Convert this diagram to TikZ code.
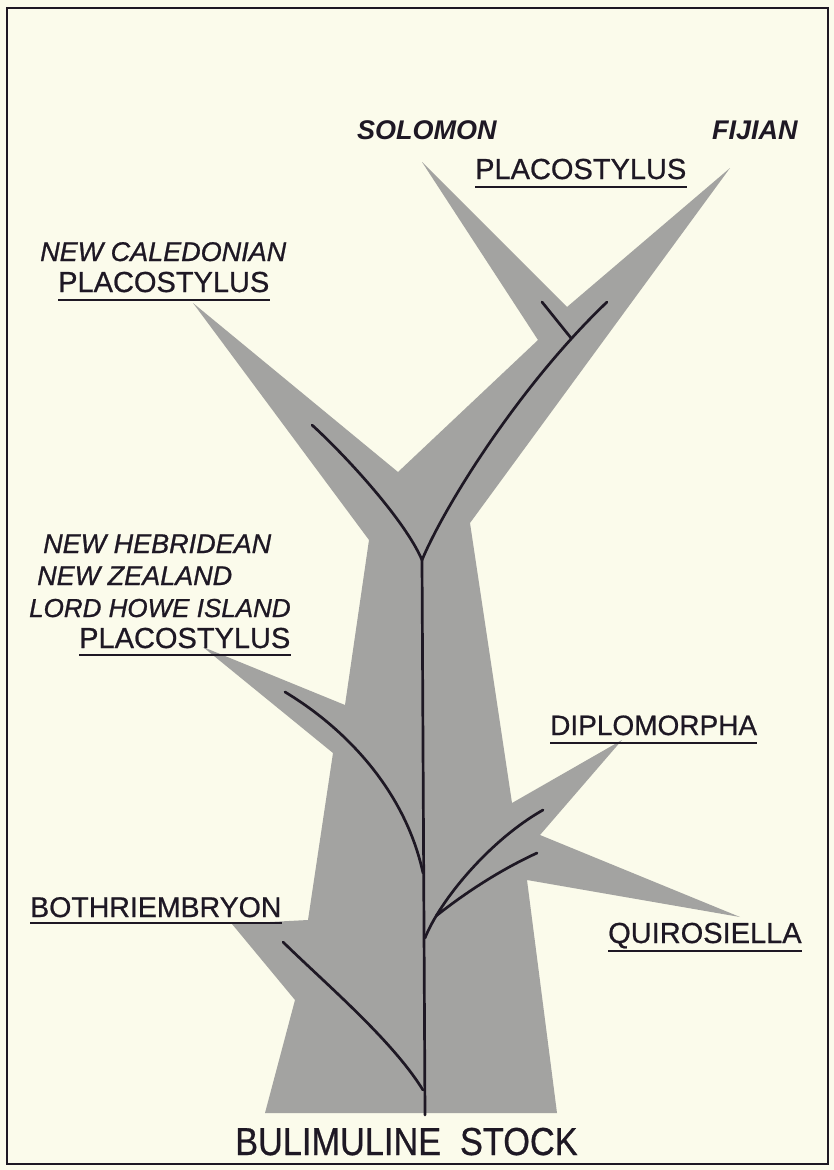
\documentclass[tikz,border=0pt]{standalone}
\usepackage{fontspec}
\setmainfont{Liberation Sans}
\newfontfamily\leroy{Liberation Sans}[FakeBold=0.7]
\newfontfamily\leroyit{Liberation Sans Italic}[FakeBold=0.9]
\definecolor{bgc}{RGB}{251,251,235}
\definecolor{branchgray}{RGB}{163,163,161}
\definecolor{inkc}{RGB}{30,24,36}
\begin{document}
\begin{tikzpicture}[x=1pt,y=-1pt,
  lbl/.style={anchor=base west, inner sep=0pt, font=\leroy\fontsize{29}{29}\selectfont, text=inkc},
  ital/.style={anchor=base west, inner sep=0pt, font=\leroyit\fontsize{27}{27}\selectfont, text=inkc},
  boldital/.style={anchor=base west, inner sep=0pt, font=\fontsize{27}{27}\selectfont\bfseries\itshape, text=inkc},
  uline/.style={draw=inkc, line width=2.8pt},
  vein/.style={draw=inkc, line width=2.7pt, line cap=round},
  body/.style={fill=branchgray, draw=none},
  frame/.style={draw=inkc, line width=2.8pt}]
% background and frame
\fill[bgc] (0,0) rectangle (834,1170);
\useasboundingbox (0,0) rectangle (834,1170);
\draw[frame] (7,8) rectangle (828,1164);

% shaded tree body
\fill[body] (265,1113) -- (295,1000) -- (232,924) -- (308,920)
  -- (333,753) -- (203,647) -- (345,705)
  -- (369,540) -- (193,303) -- (398,472)
  -- (538,340) -- (422,162) -- (567,307) -- (730,168)
  -- (470,523) -- (512,803) -- (622,740) -- (540,835)
  -- (740,917) -- (527,880) -- (557,1113) -- cycle;

% vein coordinates
\coordinate (V) at (422,560);
\coordinate (root) at (425,1115);
\coordinate (ncend) at (312,425);
\coordinate (fjend) at (607,302);
\coordinate (soend) at (542,302);
\coordinate (sojoin) at (571,338);
\coordinate (nhend) at (285,692);
\coordinate (nhjoin) at (423,873);
\coordinate (dpbase) at (425,938);
\coordinate (dpend) at (543,810);
\coordinate (qrbase) at (436,916);
\coordinate (qrend) at (537,853);
\coordinate (btend) at (283,942);
\coordinate (btjoin) at (423,1090);

% veins
\draw[vein] (V) -- (root);
\draw[vein] (ncend) .. controls (345,455) and (405,520) .. (V);
\draw[vein] (fjend) .. controls (520,385) and (445,505) .. (V);
\draw[vein] (soend) -- (sojoin);
\draw[vein] (nhend) .. controls (345,728) and (405,790) .. (nhjoin);
\draw[vein] (dpbase) .. controls (440,900) and (490,840) .. (dpend);
\draw[vein] (qrbase) .. controls (465,893) and (500,870) .. (qrend);
\draw[vein] (btend) .. controls (327,985) and (392,1040) .. (btjoin);

% labels
\node[boldital] (solomon) at (357,139) {SOLOMON};
\node[boldital] (fijian) at (712,139) {FIJIAN};
\node[lbl] (placoA) at (475,179) {PLACOSTYLUS};
\draw[uline] ([yshift=-8pt]placoA.base west) -- ([yshift=-8pt]placoA.base east);

\node[ital] (newcal) at (40,261) {NEW CALEDONIAN};
\node[lbl] (placoB) at (58,292) {PLACOSTYLUS};
\draw[uline] ([yshift=-8pt]placoB.base west) -- ([yshift=-8pt]placoB.base east);

\node[ital] (newheb) at (43,553) {NEW HEBRIDEAN};
\node[ital] (newzea) at (37,585) {NEW ZEALAND};
\node[ital,font=\leroyit\fontsize{26}{26}\selectfont] (lordhowe) at (29,617) {LORD HOWE ISLAND};
\node[lbl] (placoC) at (79,648) {PLACOSTYLUS};
\draw[uline] ([yshift=-7pt]placoC.base west) -- ([yshift=-7pt]placoC.base east);

\node[lbl,font=\leroy\fontsize{28}{28}\selectfont] (diplo) at (550,735) {DIPLOMORPHA};
\draw[uline] ([yshift=-8pt]diplo.base west) -- ([yshift=-8pt]diplo.base east);

\node[lbl] (quiro) at (608,943) {QUIROSIELLA};
\draw[uline] ([yshift=-8pt]quiro.base west) -- ([yshift=-8pt]quiro.base east);

\node[lbl,font=\leroy\fontsize{28.5}{28.5}\selectfont] (bothri) at (30,917) {BOTHRIEMBRYON};
\draw[uline] ([yshift=-6pt]bothri.base west) -- ([yshift=-6pt]bothri.base east);

\node[lbl,font=\leroy\fontsize{39}{39}\selectfont] (stock) at (235,1155) {\scalebox{0.88}[1]{BULIMULINE\hspace{0.55em}STOCK}};
\end{tikzpicture}
\end{document}
